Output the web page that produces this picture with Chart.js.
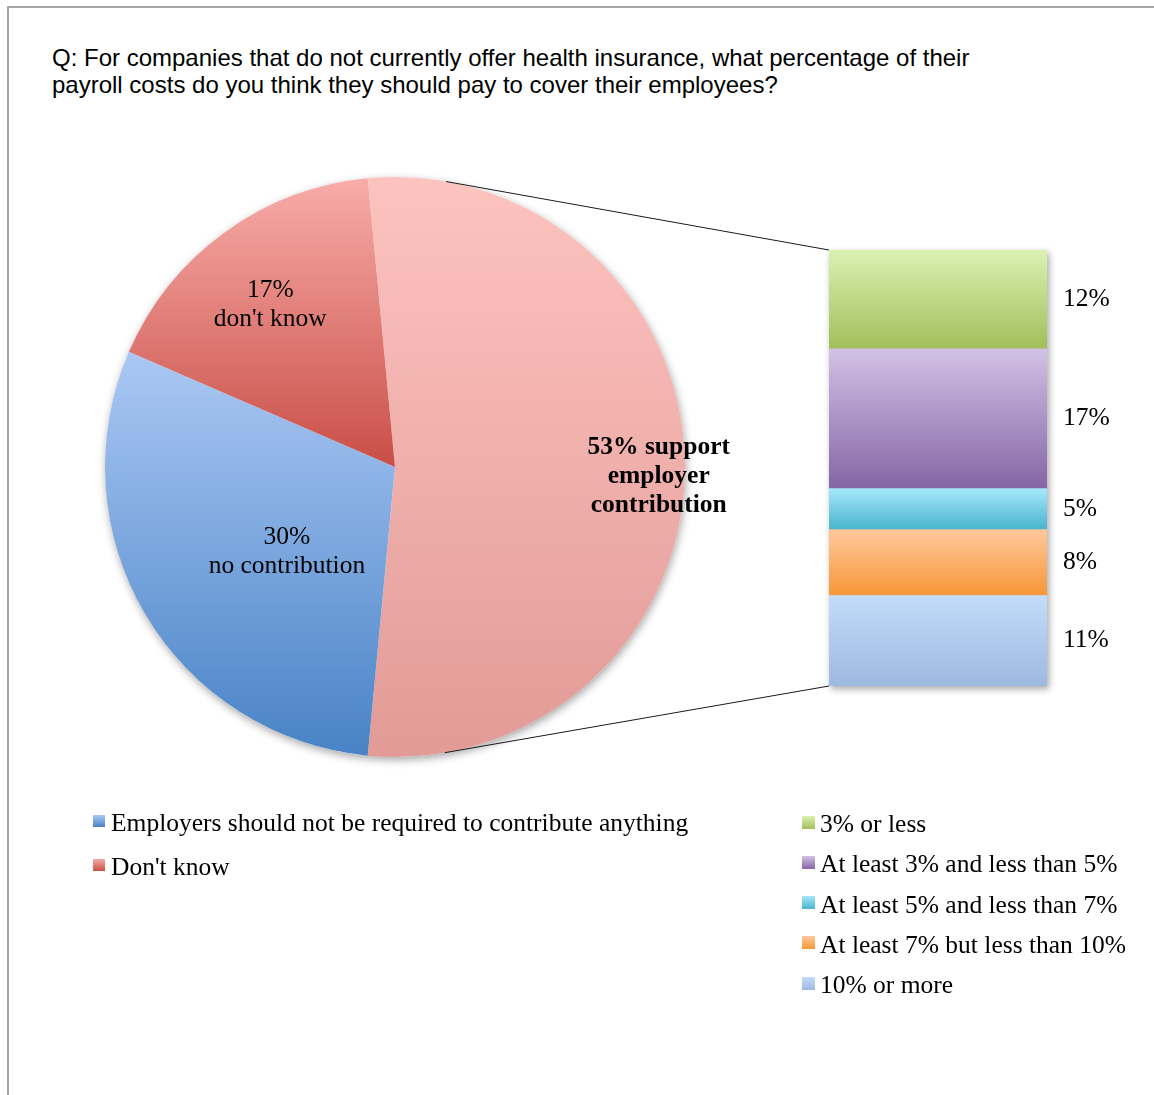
<!DOCTYPE html>
<html>
<head>
<meta charset="utf-8">
<script src="https://cdn.jsdelivr.net/npm/chart.js@4.4.1/dist/chart.umd.min.js"></script>
<style>
  body { margin: 0; background: #fff; }
  #page { position: relative; width: 1154px; height: 1095px; overflow: hidden; background: #fff; }
  #frame { position: absolute; left: 7px; top: 6px; right: -10px; bottom: -10px;
           border-left: 2px solid #a6a6a6; border-top: 2px solid #a6a6a6; }
  #title { position: absolute; left: 52px; top: 44px; font: 24px "Liberation Sans", Arial, sans-serif;
           line-height: 27px; color: #000; }
  canvas { position: absolute; left: 0; top: 0; }
  .legend { position: absolute; font: 25.5px "Liberation Serif", serif; color: #000; }
  .legend .row { display: flex; align-items: center; white-space: nowrap; }
  .legend .sw { position: relative; top: -2px; flex: none; }
</style>
</head>
<body>
<div id="page">
  <div id="frame"></div>
  <div id="title">Q: For companies that do not currently offer health insurance, what percentage of their<br>payroll costs do you think they should pay to cover their employees?</div>
  <canvas id="pieChart" width="1154" height="1095"></canvas>
  <canvas id="barChart" width="1154" height="1095"></canvas>
  <div class="legend" id="pieLegend" style="left:93px; top:801px;"></div>
  <div class="legend" id="barLegend" style="left:802px; top:804px;"></div>
</div>

<script>
// Pie: first slice is split out into the stacked bar on the right
const pieLabels = ['Employer contribution', 'Employers should not be required to contribute anything', "Don't know"];
const pieValues = [53, 30, 17];
const pieCaptions = [' support\nemployer\ncontribution', '\nno contribution', "\ndon't know"];

// Breakdown of the employer contribution slice (top segment first)
const barLabels = ['3% or less', 'At least 3% and less than 5%', 'At least 5% and less than 7%', 'At least 7% but less than 10%', '10% or more'];
const barValues = [12, 17, 5, 8, 11];

// gradient stops: [top, bottom]
const pieColors = [['#fdc3bf', '#e29b97'], ['#abc8f4', '#4883c6'], ['#f8aca8', '#c94e47']];
const barColors = [['#dbf2b2', '#a0bf5a'], ['#d2c2e6', '#8565a5'], ['#a6e8fb', '#48b3ce'], ['#ffc89c', '#f79738'], ['#c3dcfa', '#9db9e0']];

const W = 1154, H = 1095;
const PIE = { left: 105, top: 177, size: 580 };
const BAR = { left: 829, top: 250, width: 218, height: 436 };
const FONT = '"Liberation Serif", serif';

const sum = arr => arr.reduce((a, b) => a + b, 0);
const pieTotal = sum(pieValues);
const barTotal = sum(barValues);
const pieRotation = 90 - 180 * pieValues[0] / pieTotal; // centre the split slice on the right

function vGradient(ctx, y0, y1, stops) {
  const g = ctx.createLinearGradient(0, y0, 0, y1);
  g.addColorStop(0, stops[0]);
  g.addColorStop(1, stops[1]);
  return g;
}

// ---------- stacked bar ----------
function barGradient(c, i) {
  const chart = c.chart, y = chart.scales.y;
  const base = sum(barValues.slice(i + 1));
  const top = base + barValues[i];
  const y0 = y ? y.getPixelForValue(top) : NaN;
  const y1 = y ? y.getPixelForValue(base) : NaN;
  if (!chart.chartArea || !isFinite(y0) || !isFinite(y1)) return barColors[i][1];
  return vGradient(chart.ctx, y0, y1, barColors[i]);
}

const barShadow = {
  id: 'barShadow',
  beforeDatasetsDraw(chart) {
    const { ctx, chartArea: a, scales: { y } } = chart;
    const t = y.getPixelForValue(barTotal), b = y.getPixelForValue(0);
    ctx.save();
    ctx.shadowColor = 'rgba(0,0,0,0.35)';
    ctx.shadowBlur = 7;
    ctx.shadowOffsetX = 2;
    ctx.shadowOffsetY = 3;
    ctx.fillStyle = '#fff';
    ctx.fillRect(a.left, t, a.right - a.left, b - t);
    ctx.restore();
  }
};

const barValueLabels = {
  id: 'barValueLabels',
  afterDatasetsDraw(chart) {
    const { ctx, chartArea: a } = chart;
    ctx.save();
    ctx.font = '25.5px ' + FONT;
    ctx.fillStyle = '#000';
    ctx.textAlign = 'left';
    ctx.textBaseline = 'middle';
    chart.data.datasets.forEach((ds, d) => {
      const el = chart.getDatasetMeta(d).data[0];
      ctx.fillText(ds.data[0] + '%', a.right + 16, (el.y + el.base) / 2);
    });
    ctx.restore();
  }
};

// bottom segment is stacked first
const stackOrder = barValues.map((v, i) => i).reverse();

const barChart = new Chart(document.getElementById('barChart'), {
  type: 'bar',
  data: {
    labels: [''],
    datasets: stackOrder.map(i => ({
      label: barLabels[i],
      data: [barValues[i]],
      backgroundColor: c => barGradient(c, i),
      borderWidth: 0,
      barPercentage: 1,
      categoryPercentage: 1
    }))
  },
  options: {
    responsive: false,
    animation: false,
    events: [],
    layout: { padding: { left: BAR.left, top: BAR.top, right: W - BAR.left - BAR.width, bottom: H - BAR.top - BAR.height } },
    scales: {
      x: { display: false, stacked: true },
      y: { display: false, stacked: true, min: 0, max: barTotal }
    },
    plugins: { legend: { display: false }, tooltip: { enabled: false } }
  },
  plugins: [barShadow, barValueLabels]
});

// ---------- pie ----------
function arcGradient(c) {
  const chart = c.chart, a = chart.chartArea, i = c.dataIndex;
  if (!a) return pieColors[i][1];
  const cx = (a.left + a.right) / 2, cy = (a.top + a.bottom) / 2;
  const r = Math.min(a.right - a.left, a.bottom - a.top) / 2;
  const rot = (pieRotation - 90) * Math.PI / 180;
  const a0 = rot + 2 * Math.PI * sum(pieValues.slice(0, i)) / pieTotal;
  const a1 = a0 + 2 * Math.PI * pieValues[i] / pieTotal;
  const ys = [cy, cy + r * Math.sin(a0), cy + r * Math.sin(a1)];
  [-0.5, 0.5, 1.5, 2.5].forEach(k => {
    const t = k * Math.PI;
    if (t > a0 && t < a1) ys.push(cy + r * Math.sin(t));
  });
  return vGradient(chart.ctx, Math.min(...ys), Math.max(...ys), pieColors[i]);
}

const pieShadow = {
  id: 'pieShadow',
  beforeDatasetsDraw(chart) {
    const el = chart.getDatasetMeta(0).data[0];
    const ctx = chart.ctx;
    ctx.save();
    ctx.shadowColor = 'rgba(0,0,0,0.35)';
    ctx.shadowBlur = 8;
    ctx.shadowOffsetX = 1;
    ctx.shadowOffsetY = 3;
    ctx.fillStyle = '#fff';
    ctx.beginPath();
    ctx.arc(el.x, el.y, el.outerRadius, 0, Math.PI * 2);
    ctx.fill();
    ctx.restore();
  }
};

// caption placement: fraction of radius and angle nudge (deg) from slice middle
const captionPos = [{ r: 0.91, da: 2 }, { r: 0.473, da: -7.4 }, { r: 0.705, da: -1.6 }];

const pieCaptionLabels = {
  id: 'pieCaptionLabels',
  afterDatasetsDraw(chart) {
    const ctx = chart.ctx;
    const ds = chart.data.datasets[0];
    ctx.save();
    ctx.fillStyle = '#000';
    ctx.textAlign = 'center';
    ctx.textBaseline = 'middle';
    chart.getDatasetMeta(0).data.forEach((el, i) => {
      const p = captionPos[i];
      const mid = (el.startAngle + el.endAngle) / 2 + p.da * Math.PI / 180;
      const x = el.x + el.outerRadius * p.r * Math.cos(mid);
      const y = el.y + el.outerRadius * p.r * Math.sin(mid);
      const lines = (ds.data[i] + '%' + pieCaptions[i]).split('\n');
      ctx.font = (i === 0 ? 'bold ' : '') + '25.5px ' + FONT;
      const lh = 29;
      lines.forEach((t, k) => ctx.fillText(t, x, y + (k - (lines.length - 1) / 2) * lh));
    });
    ctx.restore();
  }
};

// lines from the pie to the bar corners, tangent to the circle
const connectors = {
  id: 'connectors',
  afterDraw(chart) {
    const el = chart.getDatasetMeta(0).data[0];
    const ba = barChart.chartArea;
    const yb = barChart.scales.y;
    const corners = [[ba.left, yb.getPixelForValue(barTotal), -1], [ba.left, yb.getPixelForValue(0), 1]];
    const ctx = chart.ctx;
    ctx.save();
    ctx.strokeStyle = '#1a1a1a';
    ctx.lineWidth = 1;
    corners.forEach(([px, py, side]) => {
      const dx = px - el.x, dy = py - el.y;
      const d = Math.hypot(dx, dy);
      const t = Math.atan2(dy, dx) + side * Math.acos(el.outerRadius / d);
      ctx.beginPath();
      ctx.moveTo(el.x + el.outerRadius * Math.cos(t), el.y + el.outerRadius * Math.sin(t));
      ctx.lineTo(px, py);
      ctx.stroke();
    });
    ctx.restore();
  }
};

new Chart(document.getElementById('pieChart'), {
  type: 'pie',
  data: {
    labels: pieLabels,
    datasets: [{
      data: pieValues,
      rotation: pieRotation,
      backgroundColor: arcGradient,
      borderWidth: 0
    }]
  },
  options: {
    responsive: false,
    animation: false,
    events: [],
    layout: { padding: { left: PIE.left, top: PIE.top, right: W - PIE.left - PIE.size, bottom: H - PIE.top - PIE.size } },
    plugins: { legend: { display: false }, tooltip: { enabled: false } }
  },
  plugins: [pieShadow, pieCaptionLabels, connectors]
});

// ---------- legends ----------
function buildLegend(id, labels, colors, rowH, swSize, gap) {
  const box = document.getElementById(id);
  labels.forEach((text, i) => {
    const row = document.createElement('div');
    row.className = 'row';
    row.style.height = rowH + 'px';
    const sw = document.createElement('span');
    sw.className = 'sw';
    sw.style.width = swSize + 'px';
    sw.style.height = swSize + 'px';
    sw.style.marginRight = gap + 'px';
    sw.style.background = `linear-gradient(${colors[i][0]}, ${colors[i][1]})`;
    const label = document.createElement('span');
    label.textContent = text;
    row.append(sw, label);
    box.appendChild(row);
  });
}

// the split slice has no entry of its own
buildLegend('pieLegend', pieLabels.slice(1), pieColors.slice(1), 44, 12, 6);
buildLegend('barLegend', barLabels, barColors, 40.25, 13, 5);
</script>
</body>
</html>
